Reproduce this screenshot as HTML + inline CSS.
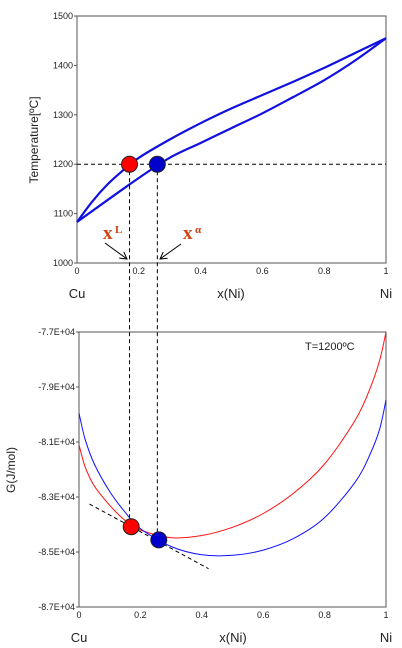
<!DOCTYPE html>
<html><head><meta charset="utf-8">
<style>
html,body{margin:0;padding:0;background:#fff;}
svg{display:block;font-family:"Liberation Sans",sans-serif;}
</style></head>
<body>
<svg id="c" width="402" height="648" viewBox="0 0 402 648" xmlns="http://www.w3.org/2000/svg">
<defs><marker id="ah" markerWidth="8" markerHeight="8" refX="7" refY="4" orient="auto"><path d="M0,0 L7,4 L0,8" fill="none" stroke="#000" stroke-width="1"/></marker></defs>
</svg>
<script>
// Top chart data
const topXTicks=[0,0.2,0.4,0.6,0.8,1];
const topYTicks=[1000,1100,1200,1300,1400,1500];
const liqX=[0,0.05,0.1,0.15,0.2,0.3,0.4,0.5,0.6,0.7,0.8,0.9,1];
const liqT=[1083,1125,1160,1188,1213,1250,1283,1313,1340,1367,1395,1425,1455];
const solX=[0,0.1,0.2,0.3,0.4,0.5,0.6,0.7,0.8,0.9,1];
const solT=[1083,1128,1172,1213,1243,1273,1303,1336,1370,1410,1455];
const tieT=1200;
const xLiq=0.17, xSol=0.26;
// Bottom chart data
const botYTicks=[-77000,-79000,-81000,-83000,-85000,-87000];
const botYLabels=["-7.7E+04","-7.9E+04","-8.1E+04","-8.3E+04","-8.5E+04","-8.7E+04"];
const gX=[0,0.02,0.05,0.1,0.15,0.2,0.3,0.4,0.5,0.6,0.7,0.8,0.9,0.95,0.98,1];
const gLiq=[-81100,-81900,-82600,-83300,-83850,-84200,-84480,-84400,-84100,-83600,-82850,-81800,-80200,-79000,-78000,-77000];
const gSol=[-79950,-80900,-81800,-82800,-83550,-84150,-84800,-85100,-85120,-84930,-84500,-83750,-82450,-81400,-80500,-79470];
const gDotL=-84080, gDotS=-84560;
const tanX=[0.034,0.422], tanG=[-83255,-85607];

const svg=document.getElementById('c');
const NS='http://www.w3.org/2000/svg';
function mk(tag,attrs,parent){const e=document.createElementNS(NS,tag);for(const k in attrs)e.setAttribute(k,attrs[k]);(parent||svg).appendChild(e);return e;}
function txt(x,y,s,size,anchor,name,extra){const t=mk('text',Object.assign({x:x,y:y,'font-size':size,'text-anchor':anchor||'start',fill:'#222'},extra||{}));t.textContent=s;return t;}

const tx=v=>77+v*309, ty=v=>16+(1500-v)*0.494;
const bx=v=>79+v*307, by=v=>332+(-77000-v)*0.0275;

let f=mk('rect',{x:77,y:16,width:309,height:247,fill:'none',stroke:'#555','stroke-width':1});

topYTicks.forEach(v=>{let l=mk('line',{x1:74,x2:77,y1:ty(v),y2:ty(v),stroke:'#555'});
txt(73,ty(v)+3,String(v),9,'end','top-y-tick-label');});
topXTicks.forEach(v=>{txt(tx(v),274,String(v),9,'middle','top-x-tick-label');});
txt(77,298,'Cu',13,'middle','top-cu-label');txt(231,298,'x(Ni)',13,'middle','top-x-axis-title');txt(386,298,'Ni',13,'middle','top-ni-label');
txt(0,0,'Temperature[ºC]',12,'middle','top-y-axis-title',{transform:'translate(38,140) rotate(-90)'});

function smooth(xs,ys,fx,fy){
 const p=xs.map((x,i)=>[fx(x),fy(ys[i])]);let d='M'+p[0][0]+','+p[0][1];
 for(let i=0;i<p.length-1;i++){const p0=p[i-1]||p[i],p1=p[i],p2=p[i+1],p3=p[i+2]||p2;
 d+=' C'+(p1[0]+(p2[0]-p0[0])/6).toFixed(1)+','+(p1[1]+(p2[1]-p0[1])/6).toFixed(1)+' '+(p2[0]-(p3[0]-p1[0])/6).toFixed(1)+','+(p2[1]-(p3[1]-p1[1])/6).toFixed(1)+' '+p2[0].toFixed(1)+','+p2[1].toFixed(1);}return d;}

let h=mk('line',{x1:tx(0),x2:tx(1),y1:ty(tieT),y2:ty(tieT),stroke:'#000','stroke-dasharray':'4,3','stroke-width':1});

let lq=mk('path',{d:smooth(liqX,liqT,tx,ty),fill:'none',stroke:'#1010e0','stroke-width':2.2});

let sl=mk('path',{d:smooth(solX,solT,tx,ty),fill:'none',stroke:'#1010e0','stroke-width':2.2});


let v1=mk('line',{x1:tx(xLiq),x2:tx(xLiq),y1:ty(tieT),y2:by(gDotL),stroke:'#000','stroke-dasharray':'4,3'});

let v2=mk('line',{x1:tx(xSol),x2:tx(xSol),y1:ty(tieT),y2:by(gDotS),stroke:'#000','stroke-dasharray':'4,3'});


let d1=mk('circle',{cx:tx(xLiq),cy:ty(tieT),r:8,fill:'#ff0000',stroke:'#222'});

let d2=mk('circle',{cx:tx(xSol),cy:ty(tieT),r:8,fill:'#0000cc',stroke:'#222'});


txt(103,239,'x',19,'start','xl-label',{fill:'#d04010','font-family':'Liberation Serif,serif','font-weight':'bold'});
txt(115,233,'L',11,'start','xl-superscript',{fill:'#d04010','font-family':'Liberation Serif,serif','font-weight':'bold'});
txt(183,239,'x',19,'start','xalpha-label',{fill:'#d04010','font-family':'Liberation Serif,serif','font-weight':'bold'});
txt(195,233,'α',11,'start','xalpha-superscript',{fill:'#d04010','font-family':'Liberation Serif,serif','font-weight':'bold'});
let a1=mk('line',{x1:105,y1:243,x2:127,y2:259,stroke:'#000','marker-end':'url(#ah)'});

let a2=mk('line',{x1:181,y1:244,x2:160,y2:259,stroke:'#000','marker-end':'url(#ah)'});


let f2=mk('rect',{x:79,y:332,width:307,height:275,fill:'none',stroke:'#555','stroke-width':1});

botYTicks.forEach((v,i)=>{let l=mk('line',{x1:76,x2:79,y1:by(v),y2:by(v),stroke:'#555'});
txt(75,by(v)+3,botYLabels[i],9,'end','bottom-y-tick-label');});
topXTicks.forEach(v=>{txt(bx(v),618,String(v),9,'middle','bottom-x-tick-label');});
txt(79,642,'Cu',13,'middle','bottom-cu-label');txt(233,642,'x(Ni)',13,'middle','bottom-x-axis-title');txt(386,642,'Ni',13,'middle','bottom-ni-label');
txt(0,0,'G(J/mol)',12,'middle','bottom-y-axis-title',{transform:'translate(15,470) rotate(-90)'});
txt(305,350,'T=1200ºC',11,'start','temperature-annotation');

let gl=mk('path',{d:smooth(gX,gLiq,bx,by),fill:'none',stroke:'#ff1010','stroke-width':1});

let gs=mk('path',{d:smooth(gX,gSol,bx,by),fill:'none',stroke:'#1010ff','stroke-width':1});

let tg=mk('line',{x1:bx(tanX[0]),y1:by(tanG[0]),x2:bx(tanX[1]),y2:by(tanG[1]),stroke:'#000','stroke-dasharray':'4,3'});

let d3=mk('circle',{cx:bx(xLiq),cy:by(gDotL),r:8,fill:'#ff0000',stroke:'#222'});

let d4=mk('circle',{cx:bx(xSol),cy:by(gDotS),r:8,fill:'#0000cc',stroke:'#222'});

</script>
</body></html>
